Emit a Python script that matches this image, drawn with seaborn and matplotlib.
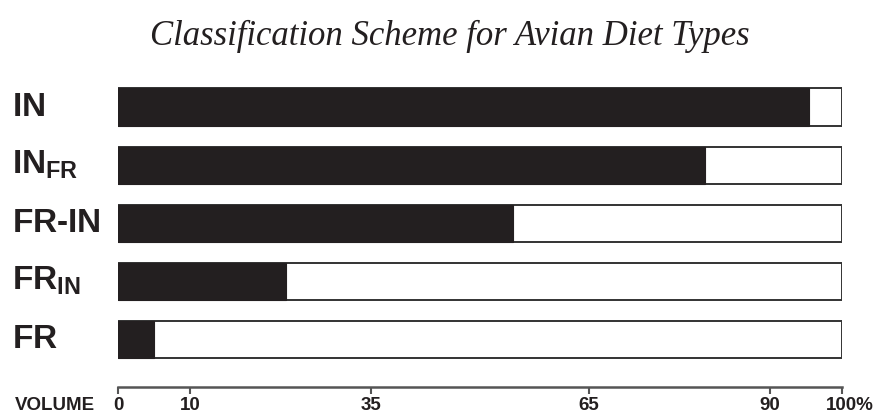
import matplotlib
matplotlib.use("Agg")
import matplotlib.pyplot as plt
import matplotlib.transforms as mtransforms
import seaborn as sns
import pandas as pd

# Diet types and insect share of diet volume (%)
diet_types = ["IN", "INFR", "FR-IN", "FRIN", "FR"]
diet_labels = [r"$\mathbf{IN}$", r"$\mathbf{IN_{FR}}$", r"$\mathbf{FR\text{-}IN}$",
               r"$\mathbf{FR_{IN}}$", r"$\mathbf{FR}$"]
insect_volume = [95.4, 81.1, 54.6, 23.2, 5.0]
total_volume = [100, 100, 100, 100, 100]
tick_values = [0, 10, 35, 65, 90, 100]
tick_labels = ["0", "10", "35", "65", "90", "100%"]

sns.set_style("white")
plt.rcParams["font.family"] = ["Liberation Sans", "DejaVu Sans"]
plt.rcParams["mathtext.fontset"] = "custom"
plt.rcParams["mathtext.bf"] = "Liberation Sans:bold"
plt.rcParams["mathtext.rm"] = "Liberation Sans:bold"

df = pd.DataFrame({"diet": diet_types, "insect": insect_volume, "total": total_volume})

fig = plt.figure(figsize=(8.79, 4.18), dpi=100)
ax = fig.add_axes([118 / 879, 1 - 387 / 418, (842 - 118) / 879, (387 - 78) / 418])

# white background bars with outline, then black insect portion
sns.barplot(ax=ax, data=df, y="diet", x="total", orient="h", color="white",
            edgecolor="#333333", linewidth=1.4, width=0.64, saturation=1)
sns.barplot(ax=ax, data=df, y="diet", x="insect", orient="h", color="#231f20",
            edgecolor="#231f20", linewidth=0.8, width=0.64, saturation=1)

ax.set_xlim(0, 100)
ax.set_ylim(4.82, -0.5)
ax.set_xlabel("")
ax.set_ylabel("")
ax.set_yticks([])
for s in ["top", "right", "left"]:
    ax.spines[s].set_visible(False)
ax.spines["bottom"].set_color("#555555")
ax.spines["bottom"].set_linewidth(1.8)
ax.set_xticks(tick_values)
ax.set_xticklabels(tick_labels, fontsize=13.5, fontweight="bold", color="#231f20")
ax.tick_params(axis="x", direction="out", length=5, width=1.5, color="#555555", pad=2.5,
               bottom=True)
# "100" centred on its tick, with the % sign hanging to the right
last = ax.get_xticklabels()[-1]
last.set_transform(last.get_transform() +
                   mtransforms.ScaledTranslation(8 / 100, 0, fig.dpi_scale_trans))

# diet type labels, left aligned
trans = mtransforms.blended_transform_factory(fig.transFigure, ax.transData)
for i, lab in enumerate(diet_labels):
    ax.text(12 / 879, i, lab, transform=trans, ha="left", va="center",
            fontsize=24, color="#231f20", clip_on=False)

fig.text(15 / 879, 1 - 406 / 418, "VOLUME", fontsize=13.5, fontweight="bold",
         color="#231f20", ha="left", va="center")

fig.text(450 / 879, 1 - 36 / 418, "Classification Scheme for Avian Diet Types",
         fontsize=25, style="italic", family=["Liberation Serif", "DejaVu Serif"],
         color="#231f20", ha="center", va="center")

fig.savefig("out.png", dpi=100, facecolor="white")
